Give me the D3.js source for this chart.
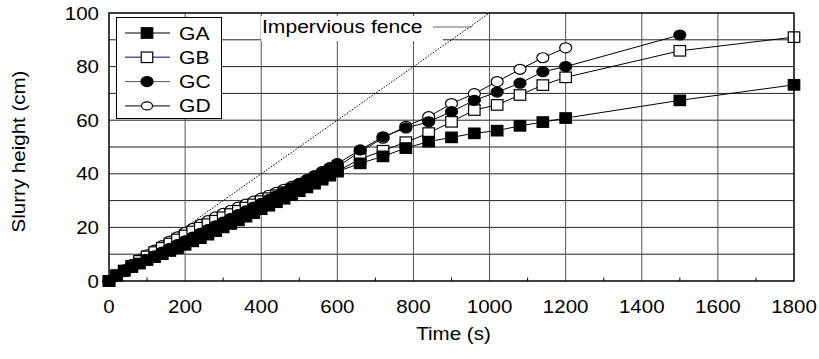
<!DOCTYPE html>
<html>
<head>
<meta charset="utf-8">
<script src="https://cdn.jsdelivr.net/npm/d3@7"></script>
<style>
  body {margin:0; background:#fff;}
  svg text {font-family:"Liberation Sans", Arial, sans-serif; fill:#000;}
</style>
</head>
<body>
<svg id=holder></svg>
<script>
// time points (s)
var times=[0,20,40,60,80,100,120,140,160,180,200,220,240,260,280,300,320,340,360,380,400,
  420,440,460,480,500,520,540,560,580,600,660,720,780,840,900,960,1020,1080,1140,1200,1500,1800];

// slurry heights (cm)
var GA=[0,2.2,3.8,5.2,6.5,7.8,8.9,10.0,11.2,12.3,13.5,14.8,16.0,17.3,18.6,20.0,21.3,22.6,24.0,25.3,26.8,
  28.1,29.4,30.7,32.1,33.5,34.9,36.3,37.8,39.3,40.8,43.9,46.5,49.6,52.0,53.6,55.1,56.1,57.9,59.3,60.8,67.4,73.2];
var GB=[0,2.0,3.9,5.7,7.5,9.2,10.8,12.4,14.0,15.5,17.0,18.5,19.9,21.2,22.5,23.8,25.0,26.2,27.4,28.6,29.8,
  30.9,32.0,33.1,34.2,35.3,36.4,37.5,38.6,39.8,41.0,45.5,48.6,51.8,55.2,59.4,63.8,65.7,69.4,73.1,76.0,85.9,91.0];
var GC=[0,1.8,3.5,5.0,6.5,8.0,9.4,10.8,12.2,13.6,15.0,16.4,17.8,19.2,20.6,22.0,23.4,24.8,26.2,27.6,29.0,
  30.4,31.8,33.3,34.8,36.3,37.8,39.3,40.8,42.3,43.8,48.9,53.8,57.1,59.4,63.2,67.4,70.5,73.8,78.1,80.0,91.8];
var GD=[0,2.2,4.2,6.1,8.0,9.8,11.5,13.2,14.9,16.5,18.1,19.6,21.1,22.5,23.9,25.2,26.4,27.6,28.7,29.8,30.9,
  32.0,33.1,34.2,35.3,36.4,37.6,38.8,40.0,41.3,42.6,48.3,53.3,57.7,61.3,66.2,69.9,74.4,79.0,83.3,87.0];

var series_names=['GA','GB','GC','GD'];
var series_kinds=['sq_fill','sq_open','circ_fill','circ_open'];
var legend_line_colors=['#000','#5a5aa8','#555','#000'];

var x_ticks=[0,200,400,600,800,1000,1200,1400,1600,1800];
var x_minor=[100,300,500,700,900,1100,1300,1500,1700];
var y_ticks=[0,20,40,60,80,100];
var y_grid=[10,20,30,40,50,60,70,80,90];
// impervious fence: straight line 0.1 cm/s
var fence_t=[0,1000];
var fence_h=[0,100];

var W=819, H=359;
var SX=1.14; // the lettering in the picture is a bit wide

var svg=d3.select('#holder').attr('width',W).attr('height',H);
var gg=svg.append('g');

var xscale=d3.scaleLinear().domain([0,1800]).range([109,794]);
var yscale=d3.scaleLinear().domain([0,100]).range([281,13]);

function add_text(g,x0,y0,str,size,anchor,rot) {
  var tr='translate('+x0+','+y0+')';
  if (rot) tr+=' rotate('+rot+')';
  tr+=' scale('+SX+',1)';
  return g.append('text')
    .attr('transform',tr)
    .attr('text-anchor',anchor||'start')
    .style('font-size',size+'px')
    .text(str);
}

// grid
gg.selectAll('.hgrid').data(y_grid).enter().append('line')
  .attr('x1',xscale(0)).attr('x2',xscale(1800))
  .attr('y1',function(d) {return yscale(d);}).attr('y2',function(d) {return yscale(d);})
  .style('stroke','#222').style('stroke-width',1);
gg.selectAll('.vgrid').data(x_ticks.slice(1,-1)).enter().append('line')
  .attr('x1',function(d) {return xscale(d);}).attr('x2',function(d) {return xscale(d);})
  .attr('y1',yscale(0)).attr('y2',yscale(100))
  .style('stroke','#555').style('stroke-width',1);
// minor ticks on the time axis
gg.selectAll('.xminor').data(x_minor).enter().append('line')
  .attr('x1',function(d) {return xscale(d);}).attr('x2',function(d) {return xscale(d);})
  .attr('y1',yscale(0)).attr('y2',yscale(0)-3.5)
  .style('stroke','#000').style('stroke-width',1);

// fence line
var fence_line=d3.line()
  .x(function(d,i) {return xscale(fence_t[i]);})
  .y(function(d,i) {return yscale(fence_h[i]);});
gg.append('path').attr('d',fence_line(fence_t))
  .style('fill','none').style('stroke','#000').style('stroke-width',1)
  .style('stroke-dasharray','1.5,1.5');

// annotation
gg.append('rect').attr('x',261).attr('y',16).attr('width',182).attr('height',25).style('fill','#fff');
add_text(gg,262,33,'Impervious fence',18.5,'start');
gg.append('line').attr('x1',433).attr('x2',472).attr('y1',27).attr('y2',27)
  .style('stroke','#666').style('stroke-width',1);

function draw_marker(g,kind,cx,cy,small) {
  if (kind=='sq_fill'||kind=='sq_open') {
    var w=11.5, h=10.5;
    g.append('rect').attr('x',cx-w/2).attr('y',cy-h/2).attr('width',w).attr('height',h)
      .style('fill',kind=='sq_fill'?'#000':'#fff').style('stroke','#000').style('stroke-width',1.2);
  }
  else {
    var rx=small?5.5:6, ry=small?4:5;
    g.append('ellipse').attr('cx',cx).attr('cy',cy).attr('rx',rx).attr('ry',ry)
      .style('fill',kind=='circ_fill'?'#000':'#fff').style('stroke','#000').style('stroke-width',1.2);
  }
}

var all_series=[GA,GB,GC,GD];
var series_line=d3.line()
  .x(function(d,i) {return xscale(times[i]);})
  .y(function(d) {return yscale(d);});
// open markers underneath, filled on top
var order=[3,1,2,0];
for (var k=0; k<order.length; k++) {
  var s=order[k];
  var vals=all_series[s];
  var sg=gg.append('g');
  sg.append('path').attr('d',series_line(vals))
    .style('fill','none').style('stroke','#000').style('stroke-width',1);
  for (var i=0; i<vals.length; i++) {
    draw_marker(sg,series_kinds[s],xscale(times[i]),yscale(vals[i]));
  }
}

// frame
gg.append('rect').attr('x',xscale(0)).attr('y',yscale(100))
  .attr('width',xscale(1800)-xscale(0)).attr('height',yscale(0)-yscale(100))
  .style('fill','none').style('stroke','#000').style('stroke-width',1.5);

// legend
var lg=gg.append('g');
lg.append('rect').attr('x',116.5).attr('y',17.5).attr('width',105).attr('height',101)
  .style('fill','#fff').style('stroke','#000').style('stroke-width',1);
for (var m=0; m<series_names.length; m++) {
  var ly=33+m*24.3;
  lg.append('line').attr('x1',125).attr('x2',170).attr('y1',ly).attr('y2',ly)
    .style('stroke',legend_line_colors[m]).style('stroke-width',m==1?1.5:1);
  draw_marker(lg,series_kinds[m],147,ly,m==3);
  add_text(lg,179,ly+6.5,series_names[m],18.5,'start');
}

// tick labels
for (var i=0; i<x_ticks.length; i++) {
  add_text(gg,xscale(x_ticks[i]),313,String(x_ticks[i]),18,'middle');
}
for (var i=0; i<y_ticks.length; i++) {
  add_text(gg,99,yscale(y_ticks[i])+6.5,String(y_ticks[i]),18,'end');
}

// axis titles
add_text(gg,453.5,340,'Time (s)',18,'middle');
add_text(gg,25,151.5,'Slurry height (cm)',18,'middle',-90);
</script>
</body>
</html>
